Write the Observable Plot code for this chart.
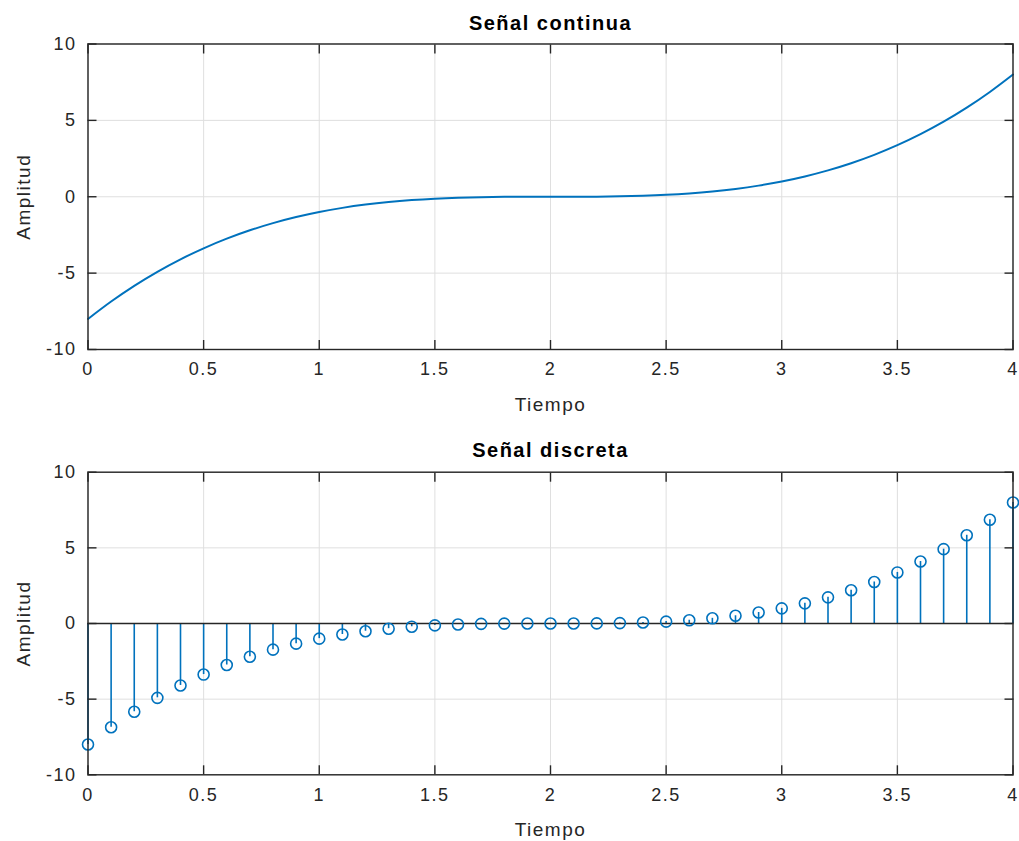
<!DOCTYPE html>
<html>
<head>
<meta charset="utf-8">
<script src="https://cdn.jsdelivr.net/npm/d3@7"></script>
<script src="https://cdn.jsdelivr.net/npm/@observablehq/plot@0.6"></script>
<style>
  html, body { margin: 0; padding: 0; background: #ffffff; }
  #chart { width: 1019px; }
  #chart svg { display: block; }
</style>
</head>
<body>
<div id="chart"></div>
<script>
// Sample instants (Tiempo)
const tiempo = [0, 0.1, 0.2, 0.3, 0.4, 0.5, 0.6, 0.7, 0.8, 0.9, 1.0,
  1.1, 1.2, 1.3, 1.4, 1.5, 1.6, 1.7, 1.8, 1.9, 2.0,
  2.1, 2.2, 2.3, 2.4, 2.5, 2.6, 2.7, 2.8, 2.9, 3.0,
  3.1, 3.2, 3.3, 3.4, 3.5, 3.6, 3.7, 3.8, 3.9, 4.0];
// Amplitud
const amplitud = [-8, -6.859, -5.832, -4.913, -4.096, -3.375, -2.744, -2.197, -1.728, -1.331, -1,
  -0.729, -0.512, -0.343, -0.216, -0.125, -0.064, -0.027, -0.008, -0.001, 0,
  0.001, 0.008, 0.027, 0.064, 0.125, 0.216, 0.343, 0.512, 0.729, 1,
  1.331, 1.728, 2.197, 2.744, 3.375, 4.096, 4.913, 5.832, 6.859, 8];
const xTicks = [0, 0.5, 1, 1.5, 2, 2.5, 3, 3.5, 4];
const yTicks = [-10, -5, 0, 5, 10];
const titles = ["Señal continua", "Señal discreta"];
const xLabel = "Tiempo";
const yLabel = "Amplitud";

const data = tiempo.map((t, i) => ({t, v: amplitud[i]}));

const BLUE = "#0072BD";
const INK = "#262626";
const GRID = "#dfdfdf";
const TICK = 9;
const fmt = d => String(d);

function axesMarks() {
  return [
    Plot.gridX(xTicks, {stroke: GRID, strokeOpacity: 1, strokeWidth: 1}),
    Plot.gridY(yTicks, {stroke: GRID, strokeOpacity: 1, strokeWidth: 1})
  ];
}
function frameMarks(title, titleDy) {
  return [
    Plot.frame({stroke: INK, strokeWidth: 1.4}),
    Plot.axisX(xTicks, {anchor: "bottom", tickSize: -TICK, tickPadding: 22, tickFormat: fmt, stroke: INK, strokeWidth: 1.4, fill: INK, label: null}),
    Plot.axisX(xTicks, {anchor: "top", tickSize: -TICK, tickFormat: () => "", stroke: INK, strokeWidth: 1.4, label: null}),
    Plot.axisY(yTicks, {anchor: "left", tickSize: -TICK, tickPadding: 20.5, tickFormat: fmt, stroke: INK, strokeWidth: 1.4, fill: INK, label: null}),
    Plot.axisY(yTicks, {anchor: "right", tickSize: -TICK, tickFormat: () => "", stroke: INK, strokeWidth: 1.4, label: null}),
    Plot.text([title], {frameAnchor: "top", dy: titleDy, lineAnchor: "middle", fontWeight: "bold", fontSize: 20, fill: "#000", text: d => d}),
    Plot.text([xLabel], {frameAnchor: "bottom", dy: 55, lineAnchor: "middle", fontSize: 19, fill: INK, text: d => d}),
    Plot.text([yLabel], {frameAnchor: "left", dx: -64.5, rotate: -90, textAnchor: "middle", lineAnchor: "middle", fontSize: 19, fill: INK, text: d => d})
  ];
}

const style = {fontFamily: "'Liberation Sans', Arial, Helvetica, sans-serif", fontSize: "18px", color: INK, letterSpacing: "1.5px", background: "#fff"};

const chartTop = Plot.plot({
  width: 1019,
  height: 420,
  marginTop: 43.5,
  marginRight: 6.5,
  marginBottom: 71,
  marginLeft: 87.5,
  style,
  x: {domain: [0, 4], axis: null},
  y: {domain: [-10, 10], axis: null},
  marks: [
    ...axesMarks(),
    Plot.line(data, {x: "t", y: "v", stroke: BLUE, strokeWidth: 2, curve: "catmull-rom"}),
    ...frameMarks(titles[0], -20.5)
  ]
});

const chartBottom = Plot.plot({
  width: 1019,
  height: 421,
  marginTop: 51.7,
  marginRight: 6.5,
  marginBottom: 66.7,
  marginLeft: 87.5,
  style,
  x: {domain: [0, 4], axis: null},
  y: {domain: [-10, 10], axis: null},
  marks: [
    ...axesMarks(),
    Plot.ruleX(data, {x: "t", y1: 0, y2: "v", stroke: BLUE, strokeWidth: 1.6}),
    Plot.ruleY([0], {stroke: INK, strokeWidth: 1.4}),
    Plot.dot(data, {x: "t", y: "v", r: 5.5, stroke: BLUE, strokeWidth: 1.6, fill: "none"}),
    ...frameMarks(titles[1], -22)
  ]
});

const el = document.getElementById("chart");
el.appendChild(chartTop);
el.appendChild(chartBottom);
</script>
</body>
</html>
